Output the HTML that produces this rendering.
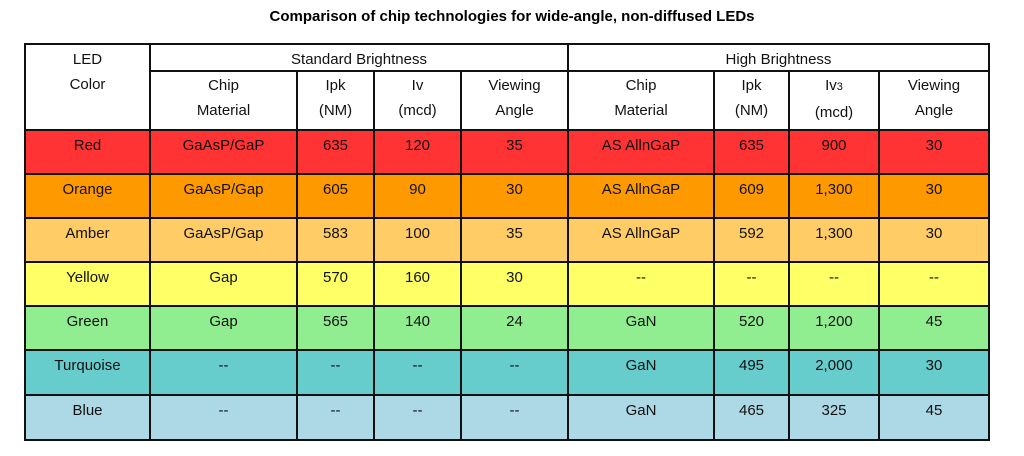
<!DOCTYPE html>
<html><head><style>
body{margin:0;width:1024px;height:456px;background:#fff;font-family:"Liberation Sans",Arial,sans-serif;position:relative;overflow:hidden}
.t{position:absolute;top:8px;left:0;width:1024px;text-align:center;font-weight:bold;font-size:15px;color:#000}
.c{position:absolute;box-sizing:border-box;border:2px solid #111;text-align:center;font-size:15px;color:#111;line-height:25px;padding-top:2px}
</style></head><body>
<div class="t">Comparison of chip technologies for wide-angle, non-diffused LEDs</div>
<div id="g"></div>
<script>
var xs=[24,149,296,373,460,567,713,788,878,988];
var g=document.getElementById('g'),h='';
function cell(x1,y1,x2,y2,txt,bg,pt){h+='<div class="c" style="left:'+x1+'px;top:'+y1+'px;width:'+(x2-x1+2)+'px;height:'+(y2-y1+2)+'px;background:'+(bg||'#fff')+';padding-top:'+(pt||2)+'px">'+txt+'</div>';}
cell(24,43,149,129,'LED<br>Color');
cell(149,43,567,70,'Standard Brightness','#fff',0);
cell(567,43,988,70,'High Brightness','#fff',0);
var hd=['Chip<br>Material','Ipk<br>(NM)','Iv<br>(mcd)','Viewing<br>Angle','Chip<br>Material','Ipk<br>(NM)','Iv<span style="font-size:11px">3</span><br>(mcd)','Viewing<br>Angle'];
for(var i=0;i<8;i++)cell(xs[i+1],70,xs[i+2],129,hd[i],'#fff',1);
var rows=[['Red','GaAsP/GaP','635','120','35','AS AllnGaP','635','900','30','#ff3333'],
['Orange','GaAsP/Gap','605','90','30','AS AllnGaP','609','1,300','30','#ff9900'],
['Amber','GaAsP/Gap','583','100','35','AS AllnGaP','592','1,300','30','#ffcc66'],
['Yellow','Gap','570','160','30','--','--','--','--','#ffff66'],
['Green','Gap','565','140','24','GaN','520','1,200','45','#90ee90'],
['Turquoise','--','--','--','--','GaN','495','2,000','30','#66cccc'],
['Blue','--','--','--','--','GaN','465','325','45','#add8e6']];
var ys=[129,173,217,261,305,349,394,439];
for(var r=0;r<7;r++)for(var c=0;c<9;c++)cell(xs[c],ys[r],xs[c+1],ys[r+1],rows[r][c],rows[r][9],2);
g.innerHTML=h;
</script>
</body></html>
